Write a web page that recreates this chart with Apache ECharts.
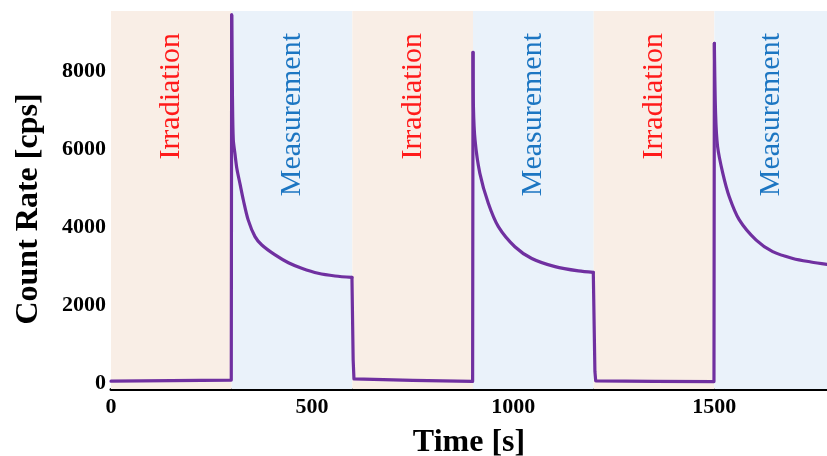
<!DOCTYPE html>
<html>
<head>
<meta charset="utf-8">
<script src="https://cdn.jsdelivr.net/npm/echarts@6/dist/echarts.min.js"></script>
<style>
html,body{margin:0;padding:0;background:#fff;}
#chart{width:827px;height:456px;}
</style>
</head>
<body>
<div id="chart"></div>
<script>
// Time (s) and count rate (cps)
const timeS = [
  0, 150, 299,
  300, 302, 304, 308, 313, 321, 329, 341, 358, 375, 408, 441, 474, 515, 557, 599,
  600, 602, 604, 750, 899,
  900, 901, 905, 917, 938, 963, 1004, 1046, 1104, 1162, 1199,
  1200, 1203, 1205, 1350, 1499,
  1500, 1503, 1508, 1521, 1537, 1562, 1604, 1645, 1695, 1740, 1780
];
const countCps = [
  50, 65, 80,
  9450, 7300, 6250, 5900, 5500, 5100, 4700, 4190, 3760, 3545, 3290, 3090, 2950, 2820, 2750, 2715,
  2710, 600, 110, 70, 45,
  8490, 7100, 6240, 5385, 4615, 4015, 3500, 3200, 2990, 2880, 2845,
  2840, 300, 60, 45, 40,
  8720, 6925, 6070, 5385, 4785, 4190, 3670, 3375, 3200, 3110, 3050
];
// Phases (start, end, label)
const phaseStart = [0, 300, 600, 900, 1200, 1500];
const phaseEnd = [300, 600, 900, 1200, 1500, 1780];
const phaseName = ['Irradiation', 'Measurement', 'Irradiation', 'Measurement', 'Irradiation', 'Measurement'];
const xTicks = [0, 500, 1000, 1500];
const yTicks = [0, 2000, 4000, 6000, 8000];

const FONT = "'Liberation Serif', 'Times New Roman', serif";
const LINE = '#7030a0';
const phaseStyle = {
  'Irradiation': { bg: '#f9eee6', fg: '#ff1a1a' },
  'Measurement': { bg: '#eaf2fa', fg: '#1c76c2' }
};

const areas = phaseName.map((n, i) => [
  {
    name: n,
    xAxis: phaseStart[i],
    itemStyle: { color: phaseStyle[n].bg, opacity: 1 },
    label: { color: phaseStyle[n].fg }
  },
  { xAxis: phaseEnd[i] }
]);

// Split the trace: decay parts (smoothed) and flat/jump parts (straight)
function inDecay(t) {
  const last = phaseName.length - 1;
  for (let i = 0; i < phaseName.length; i++) {
    const end = i === last ? phaseEnd[i] : phaseEnd[i] - 1;
    if (phaseName[i] === 'Measurement' && t >= phaseStart[i] && t <= end) return true;
  }
  return false;
}
function inJump(t) {
  for (let i = 0; i < phaseName.length; i++) {
    if (phaseName[i] === 'Irradiation' && t >= phaseStart[i] - 1 && t <= phaseEnd[i]) return true;
  }
  return false;
}
function pick(test) {
  const out = [];
  let last = -2;
  timeS.forEach((t, i) => {
    if (!test(t)) return;
    if (last >= 0 && i !== last + 1) out.push([null, null]);
    out.push([t, countCps[i]]);
    last = i;
  });
  return out;
}
const decayData = pick(inDecay);
const jumpData = pick(inJump);

const plain = v => String(v);

const chart = echarts.init(document.getElementById('chart'), null, { renderer: 'canvas' });
chart.setOption({
  animation: false,
  backgroundColor: '#ffffff',
  grid: { left: 111, right: 0, top: 11, bottom: 67, containLabel: false, outerBoundsMode: 'none' },
  xAxis: {
    type: 'value',
    min: 0,
    max: 1780,
    name: 'Time [s]',
    nameLocation: 'middle',
    nameGap: 38,
    nameTextStyle: { fontFamily: FONT, fontWeight: 'bold', fontSize: 32, color: '#000' },
    axisLine: { show: true, onZero: false, lineStyle: { color: '#000', width: 3 } },
    axisTick: { show: false },
    splitLine: { show: false },
    axisLabel: {
      customValues: xTicks,
      formatter: plain,
      fontFamily: FONT, fontWeight: 'bold', fontSize: 22, color: '#000', margin: 7
    }
  },
  yAxis: {
    type: 'value',
    min: -150,
    max: 9550,
    name: 'Count Rate [cps]',
    nameLocation: 'middle',
    nameGap: 66,
    nameRotate: 90,
    nameTextStyle: { fontFamily: FONT, fontWeight: 'bold', fontSize: 32, color: '#000', padding: [0, 18, 0, 0] },
    axisLine: { show: false },
    axisTick: { show: false },
    splitLine: { show: false },
    axisLabel: {
      customValues: yTicks,
      formatter: plain,
      fontFamily: FONT, fontWeight: 'bold', fontSize: 22, color: '#000', margin: 5
    }
  },
  series: [
    {
      type: 'line',
      data: [],
      z: 1,
      silent: true,
      markArea: {
        silent: true,
        label: {
          show: true,
          position: 'insideTop',
          distance: 22,
          rotate: 90,
          align: 'right',
          verticalAlign: 'middle',
          fontFamily: FONT,
          fontSize: 30
        },
        data: areas
      }
    },
    {
      type: 'line',
      z: 3,
      data: jumpData,
      connectNulls: false,
      showSymbol: false,
      symbol: 'none',
      smooth: false,
      lineStyle: { color: LINE, width: 3.2, join: 'round', cap: 'round' },
      itemStyle: { color: LINE }
    },
    {
      type: 'line',
      z: 3,
      data: decayData,
      connectNulls: false,
      showSymbol: false,
      symbol: 'none',
      smooth: 0.3,
      lineStyle: { color: LINE, width: 3.2, join: 'round', cap: 'round' },
      itemStyle: { color: LINE }
    }
  ]
});
</script>
</body>
</html>
